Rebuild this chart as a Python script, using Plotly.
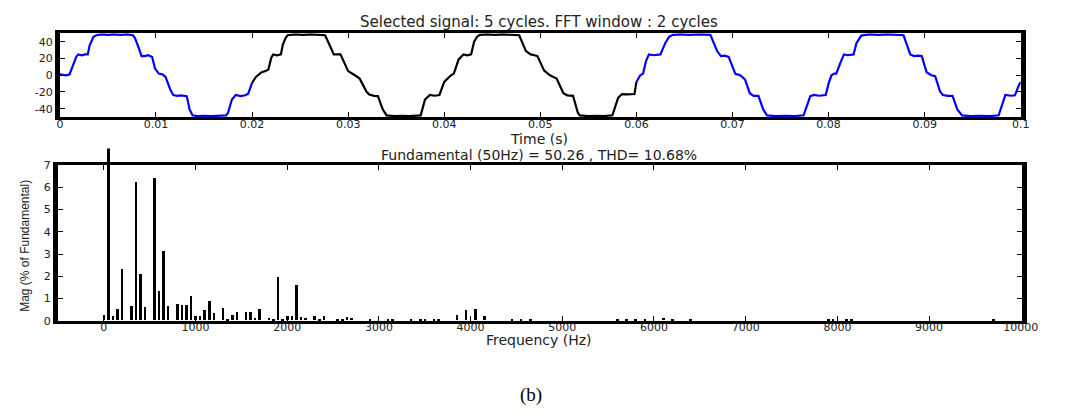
import plotly.graph_objects as go

# ---------------- time-domain signal ----------------
# times in milliseconds, values in volts
t_pre = [0.0, 0.6, 1.0, 1.4, 1.7, 1.9, 2.3, 2.6, 2.9, 3.1, 3.3, 3.5, 3.8, 4.3, 5.0, 5.6, 6.3, 7.0, 7.6,
         7.8, 8.2, 8.5, 8.8, 9.2, 9.6, 9.9, 10.3, 10.7, 11.0, 11.5, 11.8, 12.2, 12.6, 13.2, 13.5, 13.8,
         14.3, 15.0, 15.8, 16.6, 17.3, 17.5, 17.9, 18.3, 18.8, 19.3, 19.6, 20.0]
v_pre = [1, 0, 1, 13, 22, 25, 24, 25, 25, 36, 42, 46, 48, 49, 48.5, 49, 48.5, 49, 48,
         45, 33, 23, 23, 24, 22, 8, 2, 1, -2, -17.5, -23.6, -24.6, -24, -25, -41, -48,
         -49, -48.5, -49, -48.5, -48, -45, -29, -23.6, -25, -24, -22, -9]

t_win = [20.0, 20.4, 21.0, 21.4, 21.7, 22.0, 22.2, 22.6, 23.0, 23.2, 23.5, 23.7, 24.5, 25.3, 26.1, 27.0,
         27.6, 28.2, 28.5, 29.2, 29.6, 30.0, 30.7, 31.2, 31.9, 32.2, 32.7, 33.1, 33.6, 34.0, 34.8, 35.6,
         36.4, 37.2, 37.55, 38.0, 38.5, 39.0, 39.5, 40.0,
         40.7, 41.0, 41.5, 42.0, 42.4, 42.8, 43.1, 43.4, 43.7, 44.5, 45.3, 46.1, 47.0, 47.8, 48.5, 49.0,
         49.4, 49.7, 50.4, 51.0, 51.7, 52.4, 52.8, 53.4, 53.9, 54.1, 55.0, 55.8, 56.6, 57.5, 58.1, 58.5,
         59.0, 59.8, 60.0]
v_win = [-9, -2, 3.7, 5, 7, 21, 25, 24, 25, 36.5, 45, 48, 49, 48.5, 49, 48.5,
         48, 33, 25, 25, 15, 5, 0, -4, -19.5, -23, -24.6, -25, -40.8, -48, -49, -48.5,
         -49, -48.5, -48, -29, -23.6, -24.5, -23.6, -8,
         0, 2, 19, 25, 24, 25, 40, 46, 48.5, 49, 48.5, 49, 48.5, 48, 29, 25,
         24, 23, 5.6, 0, -4, -21.5, -24, -24.6, -44.6, -48, -49, -48.5, -49, -48, -27, -22.5,
         -23, -22.5, -8]

t_post = [60.0, 60.4, 60.7, 61.0, 61.3, 61.8, 62.5, 63.0, 63.4, 63.8, 64.6, 65.5, 66.5, 67.7, 68.4, 68.8,
          69.2, 69.6, 70.3, 70.8, 71.3, 71.8, 72.2, 72.7, 73.2, 73.6, 74.5, 75.5, 76.5, 77.4, 78.1, 78.5,
          79.0, 79.7, 80.0,
          80.3, 80.6, 80.8, 81.3, 81.6, 82.0, 82.6, 82.9, 83.4, 84.2, 85.2, 86.2, 87.0, 87.8, 88.5, 88.9,
          89.3, 89.7, 90.2, 90.7, 91.1, 91.6, 91.9, 92.4, 92.9, 93.4, 93.9, 94.8, 95.8, 96.8, 97.7, 98.2,
          98.4, 99.0, 99.4, 99.8, 100.0]
v_post = [-8, 0, 2, 17, 25, 24, 25, 38.5, 46, 48.5, 49, 48.5, 49, 48.5, 29, 23,
          23.5, 22, 1.7, 0, -5, -21.5, -24.6, -24.6, -41, -48, -49, -48.5, -49, -48, -25, -23.6,
          -24.5, -23.6, -10,
          0, 2, 2, 17, 25, 24, 25, 38.5, 47.5, 49, 48.5, 49, 48.5, 48, 25, 23,
          23.5, 23, 3.7, 0, -1, -19.5, -23.6, -24.6, -24.6, -41, -48, -49, -48.5, -49, -48, -29,
          -23.6, -24.5, -24, -12, -8]

time_ticks = [0, 0.01, 0.02, 0.03, 0.04, 0.05, 0.06, 0.07, 0.08, 0.09, 0.1]
time_tick_text = ["0", "0.01", "0.02", "0.03", "0.04", "0.05", "0.06", "0.07", "0.08", "0.09", "0.1"]
volt_ticks = [-40, -20, 0, 20, 40]
volt_tick_text = ["-40", "-20", "0", "20", "40"]

# ---------------- FFT spectrum ----------------
freqs = [0, 50, 100, 150, 200, 300, 350, 400, 450, 550, 600, 650, 700, 800, 850, 900, 950,
         1000, 1050, 1100, 1150, 1200, 1300, 1350, 1400, 1450, 1550, 1600, 1650, 1700, 1800, 1850,
         1900, 1950, 2000, 2050, 2100, 2150, 2200, 2300, 2350, 2400, 2550, 2600, 2650, 2700, 2900,
         3100, 3150, 3350, 3450, 3500, 3600, 3650, 3850, 3950, 4050, 4150, 4450, 4550, 4650,
         5600, 5700, 5800, 5900, 6100, 6200, 6400, 7900, 7950, 8100, 8150, 9700]
mags = [0.26, 100, 0.18, 0.5, 2.3, 0.65, 6.2, 2.1, 0.6, 6.4, 1.3, 3.1, 0.65, 0.75, 0.7, 0.7, 1.1,
        0.22, 0.2, 0.45, 0.88, 0.33, 0.57, 0.05, 0.25, 0.37, 0.37, 0.38, 0.1, 0.5, 0.12, 0.07,
        1.95, 0.07, 0.22, 0.22, 1.6, 0.17, 0.1, 0.2, 0.07, 0.2, 0.07, 0.07, 0.14, 0.12, 0.04,
        0.05, 0.05, 0.04, 0.04, 0.04, 0.05, 0.05, 0.26, 0.48, 0.5, 0.19, 0.04, 0.04, 0.04,
        0.05, 0.05, 0.06, 0.06, 0.1, 0.04, 0.05, 0.04, 0.08, 0.05, 0.04, 0.04]

freq_ticks = [0, 1000, 2000, 3000, 4000, 5000, 6000, 7000, 8000, 9000, 10000]
freq_tick_text = ["0", "1000", "2000", "3000", "4000", "5000", "6000", "7000", "8000", "9000", "10000"]
mag_ticks = [0, 1, 2, 3, 4, 5, 6, 7]

# ---------------- layout geometry (pixels of a 1075 x 418 page) ----------------
W, H = 1075, 418


def px_x(p):
    return p / W


def px_y(p):
    return 1 - p / H


TICK_FONT = dict(family="DejaVu Sans", size=11, color="#222222")
TITLE_FONT = dict(family="DejaVu Sans", size=15, color="#222222")
LABEL_FONT = dict(family="DejaVu Sans", size=14, color="#222222")

fig = go.Figure()

fig.add_trace(go.Scatter(x=[t / 1000 for t in t_pre], y=v_pre, mode="lines",
                         line=dict(color="#0000ff", width=2.2), xaxis="x", yaxis="y",
                         showlegend=False, hoverinfo="skip"))
fig.add_trace(go.Scatter(x=[t / 1000 for t in t_win], y=v_win, mode="lines",
                         line=dict(color="#000000", width=2.2), xaxis="x", yaxis="y",
                         showlegend=False, hoverinfo="skip"))
fig.add_trace(go.Scatter(x=[t / 1000 for t in t_post], y=v_post, mode="lines",
                         line=dict(color="#0000ff", width=2.2), xaxis="x", yaxis="y",
                         showlegend=False, hoverinfo="skip"))

# empty trace so that the framed spectrum subplot is drawn
fig.add_trace(go.Scatter(x=[None], y=[None], mode="lines", xaxis="x2", yaxis="y2",
                         showlegend=False, hoverinfo="skip"))

# spectrum bars drawn on an overlay subplot that reaches slightly above the frame
fig.add_trace(go.Bar(x=freqs, y=mags, width=28, marker=dict(color="#000000", line=dict(width=0)),
                     xaxis="x3", yaxis="y3", showlegend=False, hoverinfo="skip"))

frame_x = dict(showline=True, linecolor="black", linewidth=3, mirror="allticks", ticks="inside",
               ticklen=5, tickwidth=1, tickcolor="black", showgrid=False, zeroline=False,
               tickfont=TICK_FONT, ticklabelstandoff=-6)
frame_y = dict(showline=True, linecolor="black", linewidth=5, mirror="allticks", ticks="inside",
               ticklen=5, tickwidth=1, tickcolor="black", showgrid=False, zeroline=False,
               tickfont=TICK_FONT)

top_dom_x = [px_x(57), px_x(1037)]
bot_dom_x = [px_x(55), px_x(1038)]
freq_range = [-500, 10010]
bot_y_bottom = 325
bot_y_top = 164
bar_y_top = 147

fig.update_layout(
    width=W, height=H,
    margin=dict(l=0, r=0, t=0, b=0),
    paper_bgcolor="white", plot_bgcolor="rgba(0,0,0,0)",
    xaxis=dict(domain=top_dom_x, range=[0, 0.1], tickvals=time_ticks, ticktext=time_tick_text,
               anchor="y", **frame_x),
    yaxis=dict(domain=[px_y(115), px_y(28)], range=[-50.5, 50.5], tickvals=volt_ticks,
               ticktext=volt_tick_text, anchor="x", **frame_y),
    xaxis2=dict(domain=bot_dom_x, range=freq_range, tickvals=freq_ticks, ticktext=freq_tick_text,
                anchor="y2", **frame_x),
    yaxis2=dict(domain=[px_y(bot_y_bottom), px_y(bot_y_top)], range=[0, 7], tickvals=mag_ticks,
                anchor="x2", **frame_y),
    xaxis3=dict(domain=bot_dom_x, range=freq_range, anchor="y3", visible=False, showgrid=False,
                zeroline=False),
    yaxis3=dict(domain=[px_y(bot_y_bottom), px_y(bar_y_top)],
                range=[0, 7 * (bot_y_bottom - bar_y_top) / (bot_y_bottom - bot_y_top)],
                anchor="x3", visible=False, showgrid=False, zeroline=False),
    bargap=0,
)

annotations = [
    dict(text="Selected signal: 5 cycles. FFT window : 2 cycles", x=px_x(546), y=px_y(17),
         font=TITLE_FONT),
    dict(text="Time (s)", x=px_x(546), y=px_y(137), font=LABEL_FONT),
    dict(text="Fundamental (50Hz) = 50.26 , THD= 10.68%", x=px_x(546), y=px_y(153.5),
         font=LABEL_FONT),
    dict(text="Frequency (Hz)", x=px_x(546), y=px_y(345), font=LABEL_FONT),
    dict(text="Mag (% of Fundamental)", x=px_x(22), y=px_y(248), textangle=-90,
         font=dict(family="Liberation Sans", size=12, color="#222222")),
    dict(text="(b)", x=px_x(538), y=px_y(402),
         font=dict(family="Liberation Serif", size=19, color="#000000")),
]
for a in annotations:
    a.update(xref="paper", yref="paper", showarrow=False, xanchor="center", yanchor="middle")
fig.update_layout(annotations=annotations)

fig.write_html("out.html")
